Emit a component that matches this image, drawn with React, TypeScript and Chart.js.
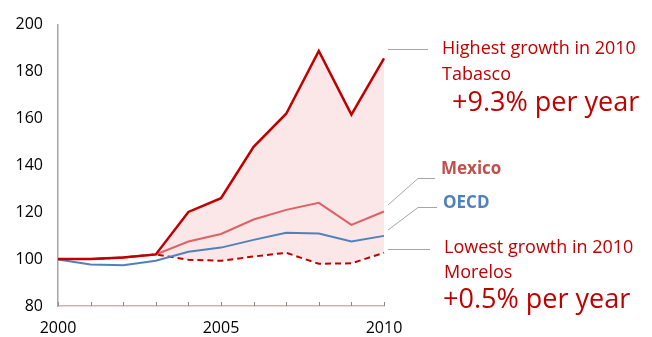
import React, { useEffect, useRef } from "react";
import { Chart, registerables } from "chart.js";

Chart.register(...registerables);

const years = ["2000", "2001", "2002", "2003", "2004", "2005", "2006", "2007", "2008", "2009", "2010"];
const tabasco = [100, 100, 100.7, 102, 120.1, 126, 147.9, 162, 188.8, 161.6, 185.6];
const mexico = [100, 100, 100.7, 102, 107.5, 110.7, 116.9, 121, 124, 114.6, 120.3];
const oecd = [99.8, 97.7, 97.4, 99.3, 103.1, 104.9, 108.2, 111.2, 110.9, 107.5, 109.9];
const morelos = [100, 100, 100.7, 102, 99.7, 99.3, 101.1, 102.7, 98, 98.2, 102.7];
const yTicks = [80, 100, 120, 140, 160, 180, 200];

const FONT = "'Open Sans', 'Liberation Sans', sans-serif";

const annotationPlugin = {
  id: "annots",
  afterDraw(chart: any) {
    const ctx = chart.ctx;
    const xs = chart.scales.x;
    const area = chart.chartArea;
    ctx.save();
    // x-axis inner tick marks
    ctx.strokeStyle = "#8c8c8c";
    ctx.lineWidth = 1;
    for (let i = 0; i < years.length; i++) {
      const x = Math.round(xs.getPixelForValue(i)) + 0.5;
      ctx.beginPath();
      ctx.moveTo(x, area.bottom);
      ctx.lineTo(x, area.bottom - 4);
      ctx.stroke();
    }
    // leader lines
    const x0 = area.right + 4;
    ctx.strokeStyle = "#a6a6a6";
    ctx.lineWidth = 1;
    const line = (pts: number[][]) => {
      ctx.beginPath();
      ctx.moveTo(pts[0][0], pts[0][1]);
      for (let k = 1; k < pts.length; k++) ctx.lineTo(pts[k][0], pts[k][1]);
      ctx.stroke();
    };
    line([[x0, 49.5], [428, 49.5]]);
    line([[x0, 205], [418, 178.5], [435, 178.5]]);
    line([[x0, 230], [418, 207.5], [437, 207.5]]);
    line([[x0, 249.5], [430, 249.5]]);

    ctx.textBaseline = "middle";
    ctx.textAlign = "left";
    ctx.fillStyle = "#c00000";
    ctx.font = `18px ${FONT}`;
    ctx.fillText("Highest growth in 2010", 442, 49);
    ctx.fillText("Tabasco", 442, 75);
    ctx.font = `27px ${FONT}`;
    ctx.fillText("+9.3% per year", 452, 103);
    ctx.font = `18px ${FONT}`;
    ctx.fillText("Lowest growth in 2010", 444, 248);
    ctx.fillText("Morelos", 444, 273);
    ctx.font = `27px ${FONT}`;
    ctx.fillText("+0.5% per year", 443, 300);

    ctx.font = `bold 17px ${FONT}`;
    ctx.fillStyle = "#c0504d";
    ctx.fillText("Mexico", 441, 169);
    ctx.fillStyle = "#4f81bd";
    ctx.fillText("OECD", 443, 203);
    ctx.restore();
  },
};

export default function App() {
  const ref = useRef<HTMLCanvasElement>(null);
  useEffect(() => {
    document.body.style.margin = "0";
    const chart = new Chart(ref.current as HTMLCanvasElement, {
      type: "line",
      data: {
        labels: years,
        datasets: [
          {
            label: "Tabasco",
            data: tabasco,
            borderColor: "#c00000",
            borderWidth: 2.5,
            pointRadius: 0,
            fill: 3,
            backgroundColor: "#fbe6e8",
            tension: 0,
          },
          {
            label: "Mexico",
            data: mexico,
            borderColor: "#de6163",
            borderWidth: 2,
            pointRadius: 0,
            fill: false,
            tension: 0,
          },
          {
            label: "OECD",
            data: oecd,
            borderColor: "#4f81bd",
            borderWidth: 2,
            pointRadius: 0,
            fill: false,
            tension: 0,
          },
          {
            label: "Morelos",
            data: morelos,
            borderColor: "#c00000",
            borderWidth: 2,
            borderDash: [6, 4],
            pointRadius: 0,
            fill: false,
            tension: 0,
          },
        ],
      },
      options: {
        animation: false,
        responsive: false,
        maintainAspectRatio: false,
        layout: { padding: { left: 0, right: 268, top: 15, bottom: 0 } },
        plugins: {
          legend: { display: false },
          tooltip: { enabled: false },
          filler: { drawTime: "beforeDatasetsDraw" },
        } as any,
        scales: {
          x: {
            type: "category",
            offset: false,
            grid: { display: false, drawTicks: false },
            border: { color: "#cdb3b3", width: 1.5 },
            ticks: {
              autoSkip: false,
              maxRotation: 0,
              padding: 13,
              color: "#000",
              font: { family: FONT, size: 16 },
              callback: (_v: any, i: number) => (i % 5 === 0 ? years[i] : ""),
            },
            afterFit: (s: any) => {
              s.height = 31;
            },
          },
          y: {
            min: 80,
            max: 200,
            afterBuildTicks: (s: any) => {
              s.ticks = yTicks.map((v) => ({ value: v }));
            },
            grid: { display: false, drawTicks: false },
            border: { color: "#a6a6a6", width: 1.5 },
            ticks: {
              padding: 15,
              color: "#000",
              font: { family: FONT, size: 16 },
            },
            afterFit: (s: any) => {
              s.width = 58;
            },
          },
        },
      },
      plugins: [annotationPlugin],
    });
    return () => chart.destroy();
  }, []);
  return <canvas ref={ref} width={652} height={337} style={{ display: "block" }} />;
}
